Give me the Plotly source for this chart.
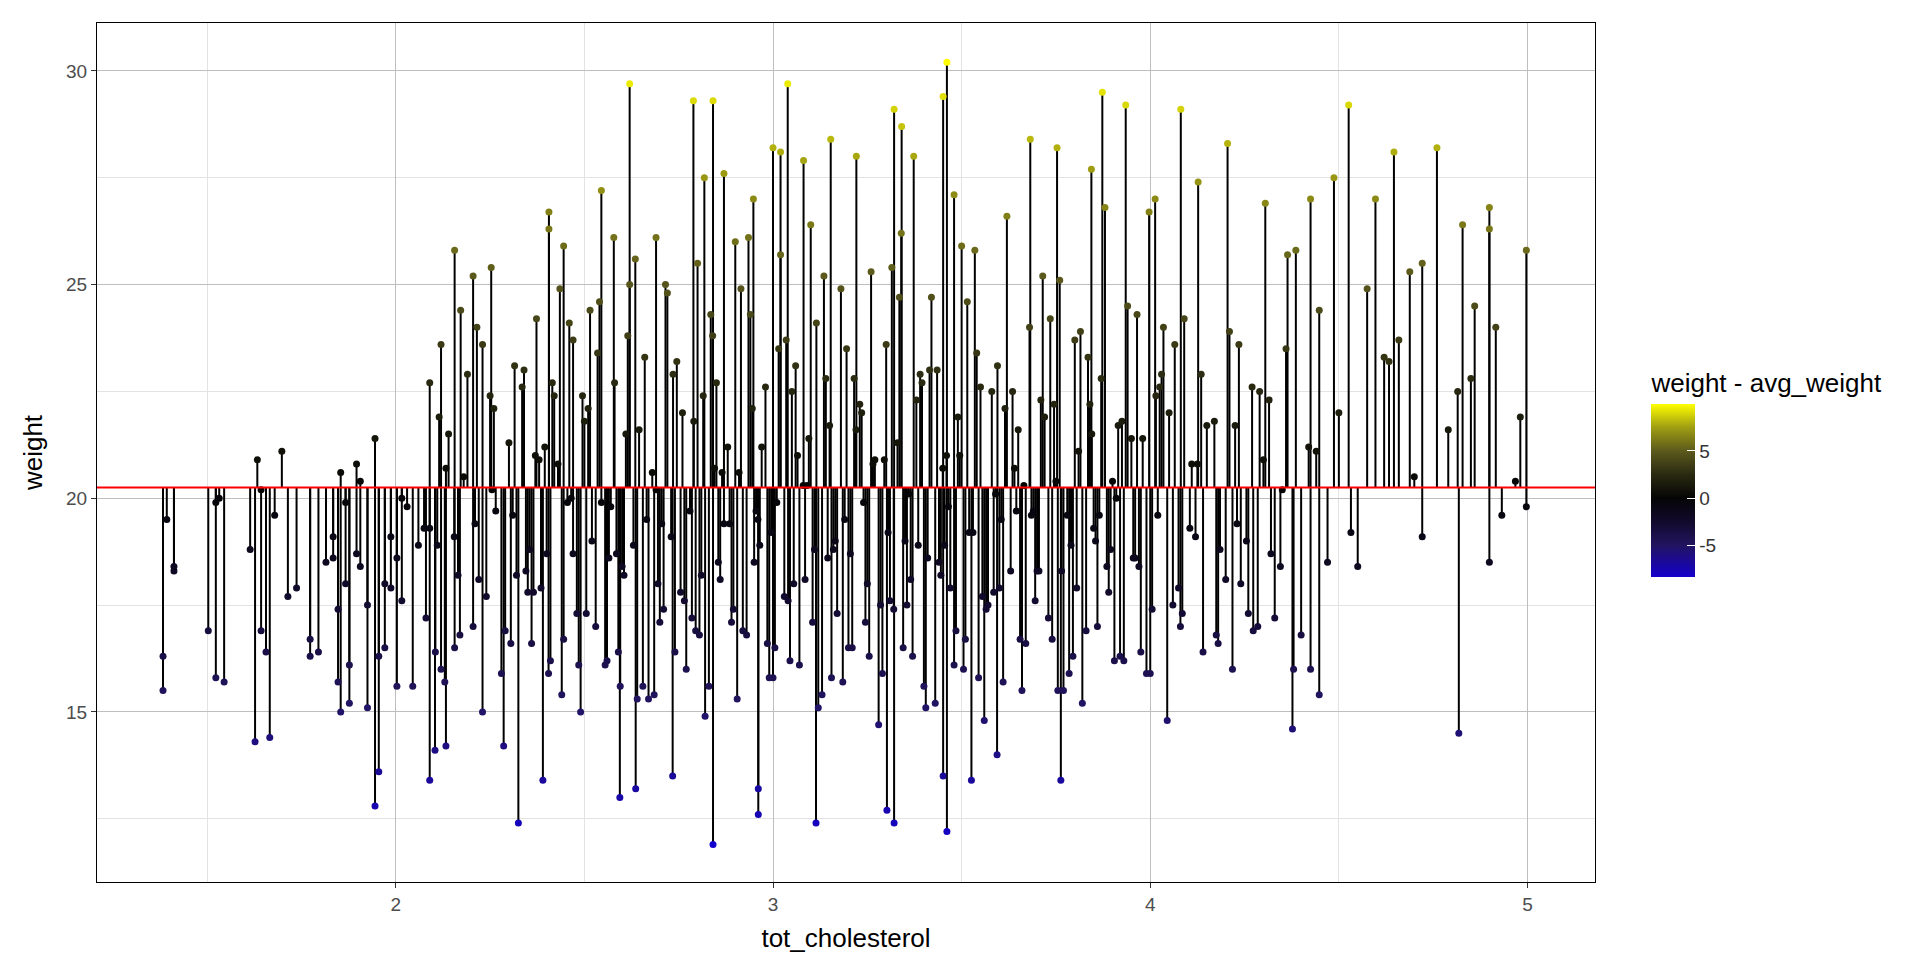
import plotly.graph_objects as go

avg_weight = 20.25

# tot_cholesterol values
chol = [
1.383,1.383,1.393,1.412,1.412,1.503,1.523,1.523,1.532,1.545,1.614,1.627,1.633,1.643,1.643,1.656,1.666,1.679,1.698,1.714,
1.737,1.773,1.773,1.795,1.815,1.834,1.834,1.847,1.847,1.854,1.854,1.867,1.867,1.877,1.877,1.896,1.896,1.906,1.906,1.925,
1.925,1.945,1.945,1.955,1.955,1.971,1.971,1.987,1.987,2.003,2.003,2.016,2.016,2.03,2.045,2.06,2.075,2.09,2.09,2.104,
2.12,2.12,2.133,2.133,2.156,2.156,2.172,2.205,2.23,2.23,2.253,2.286,2.325,2.373,2.39,2.406,2.406,2.445,2.47,2.545,
2.578,2.594,2.62,2.636,2.69,2.734,2.789,2.818,2.841,2.841,2.87,2.948,2.961,2.961,3.0,3.02,3.039,3.081,3.114,3.153,
3.221,3.302,3.321,3.321,3.341,3.373,3.451,3.451,3.461,3.461,3.48,3.526,3.594,3.682,3.753,3.763,3.844,3.873,3.935,3.997,
4.013,4.045,4.081,4.127,4.205,4.218,4.273,4.305,4.364,4.377,4.386,4.425,4.425,4.448,4.448,4.487,4.532,4.526,4.575,4.597,
4.633,4.646,4.659,4.688,4.721,4.721,4.76,4.815,4.818,4.828,4.86,4.899,4.899,4.899,4.916,4.932,4.968,4.981,4.997,4.997,
2.08,2.11,2.14,2.17,2.19,2.21,2.24,2.26,2.28,2.30,2.32,2.34,2.36,2.38,2.40,2.42,2.44,2.46,2.48,2.50,
2.52,2.54,2.56,2.58,2.60,2.62,2.64,2.66,2.68,2.70,2.72,2.74,2.76,2.78,2.80,2.82,2.84,2.86,2.88,2.90,
2.92,2.94,2.96,2.98,3.00,3.02,3.04,3.06,3.08,3.10,3.12,3.14,3.16,3.18,3.20,3.22,3.24,3.26,3.28,3.30,
3.32,3.34,3.36,3.38,3.40,3.42,3.44,3.46,3.48,3.50,3.52,3.54,3.56,3.58,3.60,3.62,3.64,3.66,3.68,3.70,
3.72,3.74,3.76,3.78,3.80,3.82,3.84,3.86,3.88,3.90,3.92,3.94,3.96,3.98,4.00,4.03,4.06,4.09,4.12,4.15,
4.18,4.21,4.24,4.27,4.30,4.33,4.36,4.40,4.44,4.50,4.55,4.62,4.70,4.79,4.85,
2.09,2.13,2.18,2.22,2.25,2.29,2.31,2.35,2.37,2.41,2.43,2.47,2.49,2.51,2.53,2.57,2.59,2.61,2.63,2.67,
2.69,2.71,2.73,2.77,2.79,2.81,2.83,2.85,2.87,2.89,2.91,2.93,2.95,2.97,2.99,3.01,3.03,3.05,3.07,3.09,
3.11,3.13,3.15,3.17,3.19,3.21,3.23,3.25,3.27,3.29,3.31,3.33,3.35,3.37,3.39,3.41,3.43,3.45,3.47,3.49,
3.51,3.53,3.55,3.57,3.59,3.61,3.63,3.65,3.67,3.69,3.71,3.73,3.75,3.77,3.79,3.81,3.83,3.85,3.87,3.89,
3.91,3.93,3.95,3.97,3.99,4.02,4.05,4.08,4.11,4.14,4.17,4.20,4.23,4.26,4.29,4.32,4.35,4.38,4.42,4.47,
2.115,2.165,2.215,2.265,2.315,2.365,2.415,2.465,2.515,2.565,2.615,2.665,2.715,2.765,2.815,2.865,2.915,2.965,3.015,3.065,
3.115,3.165,3.215,3.265,3.315,3.365,3.415,3.465,3.515,3.565,3.615,3.665,3.715,3.765,3.815,3.865,3.915,3.965,4.015,4.065,
2.105,2.155,2.205,2.255,2.305,2.355,2.405,2.455,2.505,2.555,2.605,2.655,2.705,2.755,2.805,2.855,2.905,2.955,3.005,3.055,
3.105,3.155,3.205,3.255,3.305,3.355,3.405,3.455,3.505,3.555,3.605,3.655,3.705,3.755,3.805,3.855,3.905,3.955,4.005,4.105,
2.335,2.385,2.435,2.485,2.535,2.585,2.635,2.685,2.735,2.785,2.835,2.885,2.935,2.985,3.035,3.085,3.135,3.185,3.235,3.285,
3.335,3.385,3.435,3.485,3.535,3.585,3.635,3.685,3.735,3.785,3.835,3.885,3.925,3.975,4.035,4.085,4.135,4.185,4.235,4.285,
2.345,2.395,2.445,2.495,2.545,2.595,2.645,2.695,2.745,2.795,2.845,2.895,2.945,2.995,3.045,3.095,3.145,3.195,3.245,3.295,
3.345,3.395,3.445,3.495,3.545,3.595,3.645,3.695,3.745,3.795,3.845,3.895,4.025,4.075,4.125,4.175,4.225,4.255,4.315,4.345,
]

# weight values
weight = [
15.5,16.3,19.5,18.3,18.4,16.9,15.8,19.9,20.0,15.7,18.8,14.3,20.9,16.9,20.2,16.4,14.4,19.6,21.1,17.7,
17.9,16.3,16.7,16.4,18.5,19.1,18.6,15.7,17.4,15.0,20.6,18.0,19.9,15.2,16.1,18.7,20.8,18.4,20.4,15.1,
17.5,21.4,12.8,13.6,16.3,16.5,18.0,17.9,19.1,15.6,18.6,17.6,20.0,19.8,15.6,18.9,19.3,22.7,13.4,14.1,
23.6,16.0,14.2,20.7,25.8,16.5,24.4,25.2,23.6,15.0,25.4,14.2,12.4,24.2,13.4,26.7,26.3,25.9,23.7,27.2,
26.1,13.0,29.7,13.2,26.1,13.5,29.3,27.5,29.3,11.9,27.6,27.0,13.2,12.6,28.2,28.1,29.7,27.9,12.4,28.4,
28.0,12.7,29.1,12.4,28.7,28.0,29.4,13.5,30.2,12.2,27.1,13.4,14.0,28.4,28.2,13.4,27.7,29.5,29.2,26.7,
27.0,14.8,29.1,27.4,28.3,16.0,16.9,26.9,25.7,14.6,25.8,27.0,16.0,15.4,24.4,27.5,19.2,29.2,24.9,27.0,
23.2,28.1,23.7,25.3,19.1,25.5,28.2,22.5,14.5,26.4,24.5,26.8,26.3,18.5,24.0,19.6,20.4,21.9,25.8,19.8,
17.2,18.9,21.5,16.8,22.9,19.4,17.7,22.1,15.9,21.3,18.2,23.0,16.6,20.9,18.7,22.4,15.4,24.1,17.3,21.8,
19.0,24.6,16.2,22.7,18.4,25.0,15.3,23.3,20.6,17.1,24.8,16.4,22.0,19.7,25.5,14.9,23.8,18.1,21.2,26.0,
16.9,24.3,19.5,22.6,15.8,25.7,17.6,23.1,20.3,26.4,15.1,22.8,18.8,24.9,16.5,21.6,19.9,25.3,14.7,23.6,
17.4,26.2,20.1,22.3,15.6,24.7,18.5,21.0,16.1,25.9,19.2,23.4,14.8,22.5,17.9,26.6,20.7,15.5,24.0,18.3,
21.9,16.7,25.1,19.6,23.7,15.2,22.2,17.0,26.8,20.4,16.3,24.5,18.6,21.4,15.9,22.9,17.5,24.2,19.1,21.7,
16.6,23.9,18.0,22.6,20.9,17.2,23.5,16.8,21.1,22.0,18.4,23.3,20.5,21.6,22.8,
19.3,15.7,20.5,18.1,22.4,16.9,19.6,17.8,21.0,16.2,20.8,18.7,15.0,22.1,17.0,19.8,16.4,21.5,18.9,15.3,
20.2,17.4,19.1,16.0,21.8,18.2,15.6,22.7,19.4,17.1,20.6,16.8,18.5,21.2,15.8,19.9,17.7,22.5,16.1,20.3,
18.8,15.4,21.7,17.3,19.5,16.5,22.2,18.0,20.9,15.9,17.6,21.3,19.0,16.3,22.9,18.6,15.2,20.7,17.9,21.9,
16.7,19.2,22.6,17.5,20.1,15.7,18.3,21.6,16.6,19.7,22.3,17.2,20.4,15.5,18.9,21.1,16.9,19.3,22.8,17.8,
20.0,16.2,21.4,18.4,15.9,19.6,22.0,17.0,20.8,16.4,21.8,18.1,19.4,17.3,22.5,18.7,20.2,16.0,21.2,18.5,
21.9,18.2,24.0,19.7,23.1,17.8,22.7,20.0,24.4,18.6,23.8,19.5,25.0,17.6,22.4,20.6,24.9,18.9,23.5,21.0,
24.1,19.0,22.8,20.8,25.4,18.1,23.0,19.8,24.6,17.4,22.1,20.3,25.2,18.3,23.9,19.6,21.7,24.3,22.4,23.6,
16.4,19.1,17.0,20.2,16.6,18.8,15.9,19.9,17.3,16.1,18.2,15.6,19.4,17.8,16.8,18.5,15.3,19.7,16.5,18.0,
17.1,15.8,18.7,16.3,19.2,17.5,15.1,18.9,16.0,17.7,19.5,16.7,18.3,15.5,17.9,19.0,16.2,18.6,17.4,19.3,
22.6,17.9,24.9,16.1,23.4,18.7,25.6,15.4,22.9,17.2,24.3,19.4,26.1,16.6,23.7,18.1,25.2,15.7,22.0,17.5,
24.7,18.9,23.0,16.9,25.8,17.8,22.5,19.6,24.2,15.9,23.3,18.4,21.8,16.4,24.0,17.3,22.9,18.8,23.6,17.0,
18.3,21.2,16.7,22.4,19.9,15.6,21.6,18.0,23.2,16.9,20.7,17.4,22.1,19.2,16.2,21.4,18.6,23.5,17.1,20.9,
16.5,22.7,18.2,21.0,15.8,23.1,19.7,17.6,22.2,16.3,21.5,18.8,22.6,17.9,20.8,16.8,21.7,19.0,22.3,18.4,
]

dev = [w - avg_weight for w in weight]

stem_x, stem_y = [], []
for c, w in zip(chol, weight):
    stem_x += [c, c, None]
    stem_y += [avg_weight, w, None]

span = 18.3
cscale = [
    [0.0, "#1400cc"],
    [(-5 + 8.35) / span, "#221460"],
    [(-2.5 + 8.35) / span, "#120a2c"],
    [8.35 / span, "#050505"],
    [(2.5 + 8.35) / span, "#2a2a12"],
    [(5 + 8.35) / span, "#5c5a1c"],
    [(7.5 + 8.35) / span, "#a09e12"],
    [1.0, "#ffff00"],
]

fig = go.Figure()
fig.add_trace(go.Scatter(x=stem_x, y=stem_y, mode="lines",
                         line=dict(color="black", width=2), hoverinfo="skip", showlegend=False))
fig.add_hline(y=avg_weight, line=dict(color="#ff0000", width=2))
fig.add_trace(go.Scatter(
    x=chol, y=weight, mode="markers", showlegend=False,
    marker=dict(size=7, color=dev, cmin=-8.35, cmax=9.95, colorscale=cscale,
                colorbar=dict(title=dict(text="weight - avg_weight", side="top",
                                         font=dict(size=26, color="black")),
                              tickvals=[-5, 0, 5], ticktext=["-5", "0", "5"],
                              tickfont=dict(size=19, color="#333333"),
                              thickness=44, lenmode="pixels", len=228,
                              x=1.031, xanchor="left", y=0.476, yanchor="middle",
                              outlinewidth=0, ticks="inside", tickcolor="white", ticklen=8)),
))

axis_common = dict(showline=True, linecolor="black", linewidth=1, mirror=True,
                   gridcolor="#bebebe", gridwidth=1, zeroline=False,
                   ticks="outside", tickcolor="#333333", ticklen=5,
                   tickfont=dict(size=19, color="#4d4d4d"),
                   minor=dict(showgrid=True, gridcolor="#e3e3e3", gridwidth=1))
fig.update_xaxes(range=[1.208, 5.179], tickvals=[2, 3, 4, 5],
                 minor_tickvals=[1.5, 2.5, 3.5, 4.5],
                 title=dict(text="tot_cholesterol", font=dict(size=26, color="black")), **axis_common)
fig.update_yaxes(range=[11.02, 31.12], tickvals=[15, 20, 25, 30],
                 minor_tickvals=[12.5, 17.5, 22.5, 27.5],
                 title=dict(text="weight", font=dict(size=26, color="black")), **axis_common)
fig.update_layout(width=1920, height=960, plot_bgcolor="white", paper_bgcolor="white",
                  font=dict(family="Liberation Sans, Arial, sans-serif"),
                  margin=dict(l=89, r=333, t=15, b=86))
fig.write_html("out.html")
